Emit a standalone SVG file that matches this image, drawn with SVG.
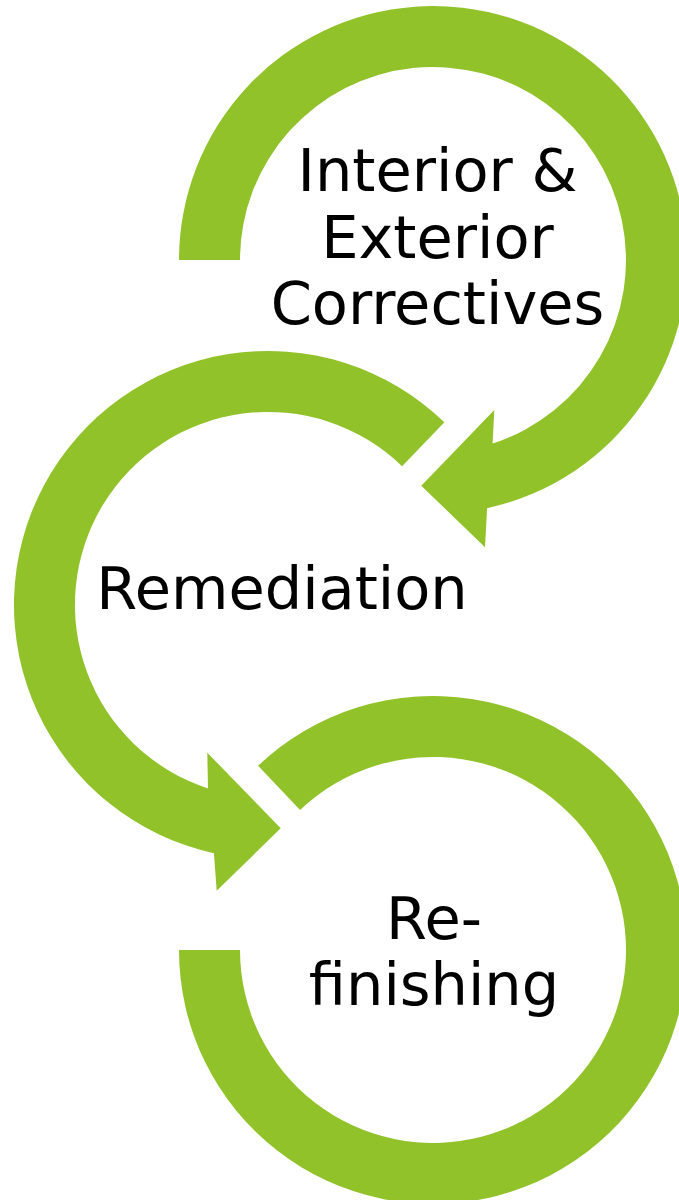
<svg xmlns="http://www.w3.org/2000/svg" width="679" height="1200" viewBox="0 0 679 1200">
<style>
.arrow{fill:#92C22A;stroke:none}
.lbl{font-family:"DejaVu Sans",sans-serif;font-size:59px;fill:#000000;text-anchor:middle}
</style>
<rect width="679" height="1200" fill="#FFFFFF"/>
<g id="connectors">
<path id="arrow1" class="arrow" d="M 179 260 A 254 254 0 1 1 487.1 508.2 L 485 547.3 L 421.3 485.7 L 494.3 410 L 492.6 443.6 A 193 193 0 1 0 240 260 Z"/>
<path id="arrow2" class="arrow" d="M 444.4 422.3 A 254 254 0 1 0 213.9 853.2 L 216.7 890.7 L 280.7 828.3 L 207.3 752.7 L 208 788.4 A 193 193 0 1 1 402.1 466.2 Z"/>
<path id="arrow3" class="arrow" d="M 258.1 765.8 A 254 254 0 1 1 179 950 L 240 950 A 193 193 0 1 0 300.1 810 Z"/>
</g>
<g id="node1">
<text class="lbl" x="437.5" y="190.5">Interior &amp;</text>
<text class="lbl" x="437.5" y="257.5">Exterior</text>
<text class="lbl" x="437.5" y="323.5">Correctives</text>
</g>
<g id="node2">
<text class="lbl" x="282" y="609">Remediation</text>
</g>
<g id="node3">
<text class="lbl" x="434" y="938.5">Re-</text>
<text class="lbl" x="434" y="1005">finishing</text>
</g>
</svg>
